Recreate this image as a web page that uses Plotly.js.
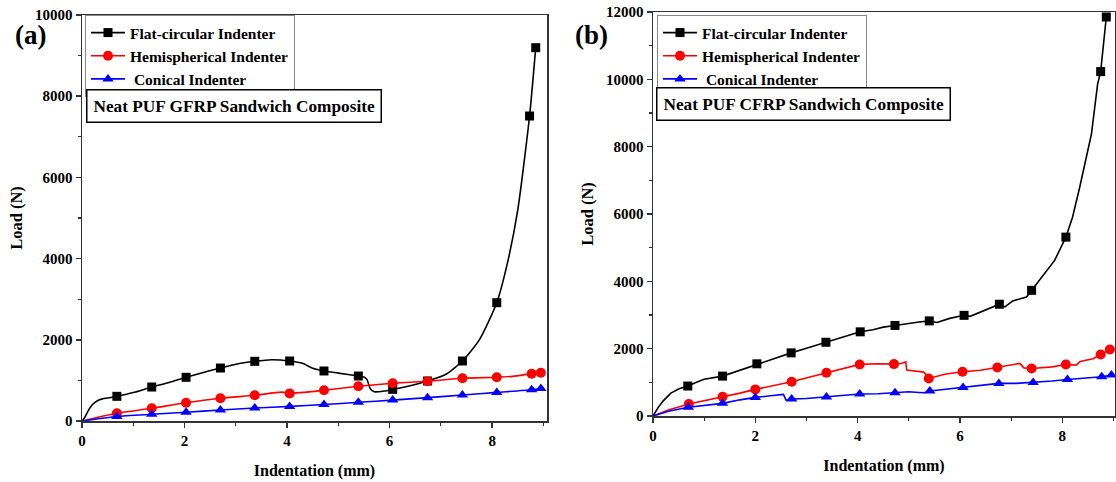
<!DOCTYPE html>
<html>
<head>
<meta charset="utf-8">
<script src="https://cdn.plot.ly/plotly-3.0.1.min.js"></script>
<style>html,body{margin:0;padding:0;background:#fff;}#chart{width:1116px;height:482px;}</style>
</head>
<body>
<div id="chart"></div>
<script>
// ---------- Panel (a): Neat PUF GFRP ----------
const aFlatX = [0, 0.05, 0.12, 0.2, 0.3, 0.4, 0.5, 0.68, 1.0, 1.36, 1.7, 2.03, 2.35, 2.7, 3.0, 3.37, 3.7, 4.05, 4.3, 4.5, 4.72, 5.0, 5.39, 5.5, 5.56, 5.62, 5.7, 5.9, 6.06, 6.4, 6.74, 7.1, 7.42, 7.75, 8.09, 8.3, 8.5, 8.73, 8.85];
const aFlatY = [0, 80, 250, 400, 500, 545, 565, 608, 700, 837, 950, 1076, 1190, 1305, 1400, 1470, 1510, 1478, 1420, 1300, 1232, 1180, 1108, 1085, 1020, 800, 720, 740, 780, 870, 985, 1150, 1478, 2000, 2914, 3900, 5200, 7512, 9195];
const aFlatMX = [0.68, 1.36, 2.03, 2.7, 3.37, 4.05, 4.72, 5.39, 6.06, 6.74, 7.42, 8.09, 8.73, 8.85];
const aFlatMY = [608, 837, 1076, 1305, 1470, 1478, 1232, 1108, 780, 985, 1478, 2914, 7512, 9195];

const aHemiX = [0, 0.68, 1.36, 2.03, 2.7, 3.37, 3.9, 4.05, 4.72, 5.39, 6.06, 6.74, 7.42, 8.09, 8.4, 8.77, 8.95];
const aHemiY = [0, 190, 313, 451, 559, 633, 710, 680, 756, 855, 929, 978, 1052, 1076, 1100, 1165, 1190];
const aHemiMX = [0.68, 1.36, 2.03, 2.7, 3.37, 4.05, 4.72, 5.39, 6.06, 6.74, 7.42, 8.09, 8.77, 8.95];
const aHemiMY = [190, 313, 451, 559, 633, 680, 756, 855, 929, 978, 1052, 1076, 1165, 1190];

const aConeX = [0, 0.68, 1.36, 2.03, 2.7, 3.37, 4.05, 4.72, 5.39, 6.06, 6.74, 7.42, 8.09, 8.77, 8.95];
const aConeY = [0, 110, 165, 215, 270, 320, 360, 405, 460, 515, 575, 640, 705, 770, 800];
const aConeMX = [0.68, 1.36, 2.03, 2.7, 3.37, 4.05, 4.72, 5.39, 6.06, 6.74, 7.42, 8.09, 8.77, 8.95];
const aConeMY = [110, 165, 215, 270, 320, 360, 405, 460, 515, 575, 640, 705, 770, 800];

// ---------- Panel (b): Neat PUF CFRP ----------
const bFlatX = [0, 0.1, 0.2, 0.35, 0.5, 0.68, 0.85, 1.0, 1.36, 1.7, 2.03, 2.35, 2.7, 3.0, 3.38, 3.7, 3.85, 4.05, 4.3, 4.5, 4.73, 5.0, 5.2, 5.4, 5.55, 5.8, 6.08, 6.2, 6.5, 6.77, 6.88, 7.03, 7.3, 7.4, 7.62, 7.85, 8.07, 8.2, 8.34, 8.57, 8.69, 8.75, 8.86];
const bFlatY = [0, 250, 450, 680, 800, 890, 1000, 1090, 1185, 1360, 1550, 1700, 1875, 2010, 2190, 2330, 2400, 2500, 2560, 2640, 2690, 2760, 2790, 2825, 2780, 2900, 2990, 2960, 3150, 3320, 3240, 3417, 3535, 3733, 4178, 4622, 5313, 5905, 6794, 8380, 9860, 10230, 11852];
const bFlatMX = [0.68, 1.36, 2.03, 2.7, 3.38, 4.05, 4.73, 5.4, 6.08, 6.77, 7.4, 8.07, 8.75, 8.86];
const bFlatMY = [890, 1185, 1550, 1875, 2190, 2500, 2690, 2825, 2990, 3320, 3733, 5313, 10230, 11852];

const bHemiX = [0, 0.3, 0.7, 1.0, 1.36, 1.7, 2.0, 2.35, 2.71, 3.05, 3.39, 3.7, 4.04, 4.4, 4.71, 4.85, 4.94, 4.96, 5.12, 5.29, 5.33, 5.39, 5.7, 6.05, 6.4, 6.73, 7.0, 7.17, 7.25, 7.4, 7.8, 8.07, 8.27, 8.35, 8.6, 8.75, 8.93];
const bHemiY = [0, 180, 355, 450, 572, 680, 790, 900, 1017, 1150, 1284, 1420, 1532, 1550, 1541, 1560, 1610, 1363, 1343, 1304, 1250, 1116, 1240, 1313, 1360, 1442, 1500, 1560, 1430, 1412, 1460, 1531, 1510, 1620, 1700, 1828, 1975];
const bHemiMX = [0.7, 1.36, 2.0, 2.71, 3.39, 4.04, 4.71, 5.39, 6.05, 6.73, 7.4, 8.07, 8.75, 8.93];
const bHemiMY = [355, 572, 790, 1017, 1284, 1532, 1541, 1116, 1313, 1442, 1412, 1531, 1828, 1975];

const bConeX = [0, 0.3, 0.69, 1.0, 1.36, 1.7, 2.0, 2.3, 2.55, 2.6, 2.71, 3.0, 3.39, 3.7, 4.04, 4.4, 4.73, 5.0, 5.2, 5.3, 5.41, 5.7, 6.06, 6.4, 6.76, 7.1, 7.43, 7.8, 8.1, 8.4, 8.77, 8.96];
const bConeY = [0, 140, 258, 320, 376, 480, 553, 600, 640, 470, 504, 520, 563, 600, 652, 660, 691, 720, 700, 690, 741, 790, 850, 920, 968, 970, 998, 1040, 1086, 1120, 1165, 1215];
const bConeMX = [0.69, 1.36, 2.0, 2.71, 3.39, 4.04, 4.73, 5.41, 6.06, 6.76, 7.43, 8.1, 8.77, 8.96];
const bConeMY = [258, 376, 553, 504, 563, 652, 691, 741, 850, 968, 998, 1086, 1165, 1215];

const seriesNames = ['Flat-circular Indenter', 'Hemispherical Indenter', ' Conical Indenter'];
const seriesColors = ['#000000', '#ff0000', '#0000ff'];
const seriesSymbols = ['square', 'circle', 'triangle-up'];
const seriesSizes = [9, 10, 10];
const panelLabels = ['(a)', '(b)'];
const panelNotes = ['Neat PUF GFRP Sandwich Composite', 'Neat PUF CFRP Sandwich Composite'];
const xTitle = 'Indentation (mm)';
const yTitle = 'Load (N)';

const FONT = '"Liberation Serif", "Times New Roman", Times, serif';
const W = 1116, H = 482;

const panels = [
  {xa: 'x', ya: 'y', legend: 'legend', shape: 'spline',
   lines: [[aFlatX, aFlatY], [aHemiX, aHemiY], [aConeX, aConeY]],
   marks: [[aFlatMX, aFlatMY], [aHemiMX, aHemiMY], [aConeMX, aConeMY]]},
  {xa: 'x2', ya: 'y2', legend: 'legend2', shape: 'linear',
   lines: [[bFlatX, bFlatY], [bHemiX, bHemiY], [bConeX, bConeY]],
   marks: [[bFlatMX, bFlatMY], [bHemiMX, bHemiMY], [bConeMX, bConeMY]]}
];

const data = [];
panels.forEach(p => {
  for (let i = 0; i < 3; i++) {
    data.push({x: p.lines[i][0], y: p.lines[i][1], xaxis: p.xa, yaxis: p.ya, mode: 'lines',
      line: {color: seriesColors[i], width: 1.6, shape: p.shape, smoothing: 0.6},
      showlegend: false, hoverinfo: 'skip'});
    data.push({x: p.marks[i][0], y: p.marks[i][1], xaxis: p.xa, yaxis: p.ya, mode: 'markers',
      marker: {color: seriesColors[i], symbol: seriesSymbols[i], size: seriesSizes[i]},
      showlegend: false});
  }
  for (let i = 0; i < 3; i++) {
    data.push({x: [null], y: [null], xaxis: p.xa, yaxis: p.ya, mode: 'lines+markers',
      name: seriesNames[i], legend: p.legend,
      line: {color: seriesColors[i], width: 1.6},
      marker: {color: seriesColors[i], symbol: seriesSymbols[i], size: seriesSizes[i]}});
  }
});

const tickFont = {family: FONT, size: 15, weight: 'bold', color: '#000'};
const titleFont = {family: FONT, size: 16, weight: 'bold', color: '#000'};
function xaxis(domain, range) {
  return {domain: domain, range: range, showline: true, mirror: true,
    linecolor: '#333', linewidth: 1.5, ticks: 'outside', ticklen: 5, tickwidth: 1.5, tickcolor: '#333',
    dtick: 2, tick0: 0, showgrid: false, zeroline: false, tickfont: tickFont,
    minor: {ticks: 'outside', ticklen: 3, dtick: 1, tick0: 0, tickcolor: '#333', tickwidth: 1.2, showgrid: false},
    title: {text: xTitle, font: titleFont, standoff: 17}};
}
function yaxis(domain, range) {
  return {domain: domain, range: range, showline: true, mirror: true,
    linecolor: '#333', linewidth: 1.5, ticks: 'outside', ticklen: 5, tickwidth: 1.5, tickcolor: '#333',
    dtick: 2000, tick0: 0, tickformat: 'd', showgrid: false, zeroline: false, tickfont: tickFont,
    minor: {ticks: 'outside', ticklen: 3, dtick: 1000, tick0: 0, tickcolor: '#333', tickwidth: 1.2, showgrid: false},
    title: {text: yTitle, font: {family: FONT, size: 16.5, weight: 'bold', color: '#000'}, standoff: 8}};
}

const xa1 = xaxis([82 / W, 547 / W], [0, 9.07]); xa1.anchor = 'y';
const ya1 = yaxis([1 - 421 / H, 1 - 15 / H], [0, 10000]); ya1.anchor = 'x';
const xa2 = xaxis([653 / W, 1115 / W], [0, 9.03]); xa2.anchor = 'y2';
const ya2 = yaxis([1 - 416 / H, 1 - 12 / H], [0, 12000]); ya2.anchor = 'x2';

const legendStyle = (x, y) => ({x: x, y: y, xanchor: 'left', yanchor: 'top', xref: 'paper', yref: 'paper',
  bgcolor: '#fff', bordercolor: '#888', borderwidth: 1,
  font: {family: FONT, size: 15.5, weight: 'bold', color: '#000'}, tracegroupgap: 0, itemwidth: 34});

const labelFont = {family: FONT, size: 27, weight: 'bold', color: '#000'};
const noteFont = {family: FONT, size: 17.25, weight: 'bold', color: '#000'};

const layout = {
  width: W, height: H, margin: {l: 0, r: 0, t: 0, b: 0},
  paper_bgcolor: '#fff', plot_bgcolor: '#fff',
  font: {family: FONT},
  xaxis: xa1, yaxis: ya1, xaxis2: xa2, yaxis2: ya2,
  legend: legendStyle(85 / W, 1 - 15 / H),
  legend2: legendStyle(657 / W, 1 - 15 / H),
  annotations: [
    {text: panelLabels[0], xref: 'paper', yref: 'paper', x: 30 / W, y: 1 - 35 / H,
     xanchor: 'center', yanchor: 'middle', showarrow: false, font: labelFont},
    {text: panelLabels[1], xref: 'paper', yref: 'paper', x: 591 / W, y: 1 - 35 / H,
     xanchor: 'center', yanchor: 'middle', showarrow: false, font: labelFont},
    {text: panelNotes[0], xref: 'paper', yref: 'paper', x: 86 / W, y: 1 - 89 / H, xanchor: 'left', yanchor: 'top',
     showarrow: false, bordercolor: '#000', borderwidth: 1.5, borderpad: 6, bgcolor: '#fff', font: noteFont},
    {text: panelNotes[1], xref: 'paper', yref: 'paper', x: 656 / W, y: 1 - 87 / H, xanchor: 'left', yanchor: 'top',
     showarrow: false, bordercolor: '#000', borderwidth: 1.5, borderpad: 6, bgcolor: '#fff', font: noteFont}
  ]
};

Plotly.newPlot('chart', data, layout, {displayModeBar: false, staticPlot: true});
</script>
</body>
</html>
